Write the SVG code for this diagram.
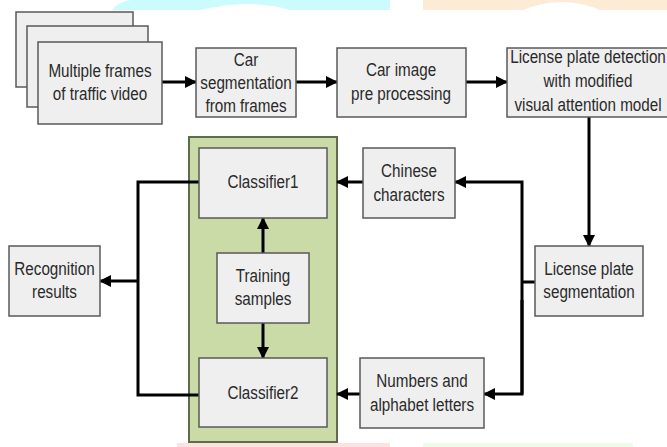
<svg xmlns="http://www.w3.org/2000/svg" width="667" height="447" viewBox="0 0 667 447">
  <style>
    .box { fill: #efefef; stroke: #5a5a5a; stroke-width: 1.5; }
    .panel { fill: #cadba8; stroke: #5f6b49; stroke-width: 2; }
    .lbl { font-family: "Liberation Sans", Arial, sans-serif; font-size: 17.5px; fill: #2a2a2a; text-anchor: middle; }
    .wire { fill: none; stroke: #000; stroke-width: 3; }
  </style>
  <defs>
    <marker id="head" viewBox="0 0 12 12" refX="11" refY="6" markerWidth="12" markerHeight="12" markerUnits="userSpaceOnUse" orient="auto">
      <path d="M0,0 L12,6 L0,12 Z" fill="#000"/>
    </marker>
  </defs>

  <rect width="667" height="447" fill="#fff"/>

  <!-- pale page decorations along the top and bottom edges -->
  <g id="decor">
    <path d="M112,10 Q118,2 130,0 L390,0 L390,10 L290,10 Q250,-2 200,10 Z" fill="#ccfbfd"/>
    <path d="M423,0 L667,0 L667,10 L600,10 Q562,-6 523,10 L423,10 Z" fill="#fdebd6"/>
    <rect x="177" y="443" width="213" height="4" fill="#fde2e2"/>
    <rect x="423" y="443" width="210" height="4" fill="#eefbe6"/>
  </g>

  <!-- classifier panel -->
  <g id="classifier-panel">
    <rect class="panel" x="189" y="137" width="148" height="305"/>
  </g>

  <g id="connectors">
    <line class="wire" x1="162" y1="82" x2="196" y2="82" marker-end="url(#head)"/>
    <line class="wire" x1="296" y1="82" x2="337" y2="82" marker-end="url(#head)"/>
    <line class="wire" x1="466" y1="82" x2="507" y2="82" marker-end="url(#head)"/>
    <line class="wire" x1="589" y1="117" x2="589" y2="246" marker-end="url(#head)"/>
    <polyline class="wire" points="535,282 522,282"/>
    <polyline class="wire" points="522,394 522,182 455,182" marker-end="url(#head)"/>
    <polyline class="wire" points="522,300 522,394 484,394" marker-end="url(#head)"/>
    <line class="wire" x1="363" y1="182" x2="337" y2="182" marker-end="url(#head)"/>
    <line class="wire" x1="360" y1="394" x2="337" y2="394" marker-end="url(#head)"/>
    <line class="wire" x1="263" y1="253" x2="263" y2="218" marker-end="url(#head)"/>
    <line class="wire" x1="263" y1="323" x2="263" y2="358" marker-end="url(#head)"/>
    <polyline class="wire" points="199,182 138,182 138,395 199,395"/>
    <line class="wire" x1="138" y1="281" x2="100" y2="281" marker-end="url(#head)"/>
  </g>

  <g id="frames">
    <rect class="box" x="16" y="12" width="117" height="75"/>
    <rect class="box" x="27" y="26" width="121" height="81"/>
    <rect class="box" x="38" y="42" width="124" height="82"/>
    <text class="lbl" transform="translate(100,77) scale(0.87,1)">Multiple frames</text>
    <text class="lbl" transform="translate(100,100) scale(0.87,1)">of traffic video</text>
  </g>

  <g id="car-segmentation">
    <rect class="box" x="196" y="48" width="100" height="69"/>
    <text class="lbl" transform="translate(246,66) scale(0.87,1)">Car</text>
    <text class="lbl" transform="translate(246,89) scale(0.87,1)">segmentation</text>
    <text class="lbl" transform="translate(246,112) scale(0.87,1)">from frames</text>
  </g>

  <g id="car-preprocessing">
    <rect class="box" x="337" y="48" width="129" height="69"/>
    <text class="lbl" transform="translate(401,76) scale(0.87,1)">Car image</text>
    <text class="lbl" transform="translate(401,100) scale(0.87,1)">pre processing</text>
  </g>

  <g id="plate-detection">
    <rect class="box" x="507" y="48" width="162" height="69"/>
    <text class="lbl" transform="translate(588,63) scale(0.87,1)">License plate detection</text>
    <text class="lbl" transform="translate(588,87) scale(0.87,1)">with modified</text>
    <text class="lbl" transform="translate(588,111) scale(0.87,1)">visual attention model</text>
  </g>

  <g id="plate-segmentation">
    <rect class="box" x="535" y="246" width="108" height="70"/>
    <text class="lbl" transform="translate(589,275) scale(0.87,1)">License plate</text>
    <text class="lbl" transform="translate(589,298) scale(0.87,1)">segmentation</text>
  </g>

  <g id="chinese-characters">
    <rect class="box" x="363" y="148" width="92" height="70"/>
    <text class="lbl" transform="translate(409,177) scale(0.87,1)">Chinese</text>
    <text class="lbl" transform="translate(409,201) scale(0.87,1)">characters</text>
  </g>

  <g id="numbers-letters">
    <rect class="box" x="360" y="358" width="124" height="70"/>
    <text class="lbl" transform="translate(422,387) scale(0.87,1)">Numbers and</text>
    <text class="lbl" transform="translate(422,411) scale(0.87,1)">alphabet letters</text>
  </g>

  <g id="classifier1">
    <rect class="box" x="199" y="148" width="128" height="70"/>
    <text class="lbl" transform="translate(263,188) scale(0.87,1)">Classifier1</text>
  </g>

  <g id="training-samples">
    <rect class="box" x="217" y="253" width="92" height="70"/>
    <text class="lbl" transform="translate(263,282) scale(0.87,1)">Training</text>
    <text class="lbl" transform="translate(263,305) scale(0.87,1)">samples</text>
  </g>

  <g id="classifier2">
    <rect class="box" x="199" y="358" width="128" height="69"/>
    <text class="lbl" transform="translate(263,399) scale(0.87,1)">Classifier2</text>
  </g>

  <g id="recognition-results">
    <rect class="box" x="9" y="246" width="91" height="70"/>
    <text class="lbl" transform="translate(54.5,275) scale(0.87,1)">Recognition</text>
    <text class="lbl" transform="translate(54.5,298) scale(0.87,1)">results</text>
  </g>
</svg>
